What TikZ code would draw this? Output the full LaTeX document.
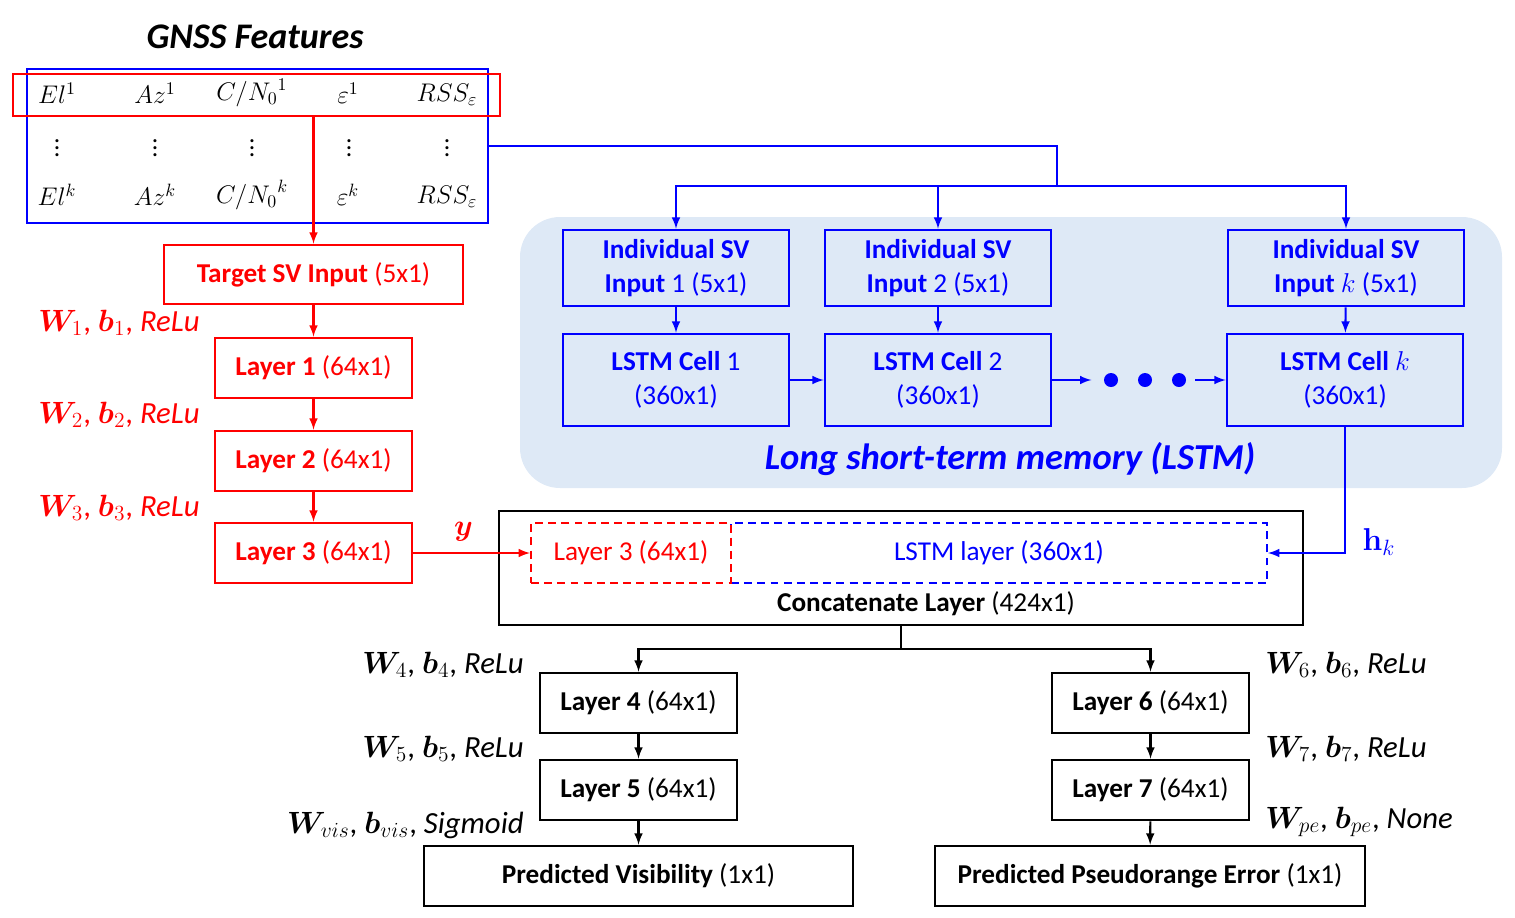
\RequirePackage{fix-cm}
\documentclass[tikz,border=0pt]{standalone}
\usepackage{amsmath,amssymb,bm}
\usepackage[no-math]{fontspec}
\setmainfont{Carlito}
\usepackage{xcolor}

\definecolor{lstmbg}{RGB}{222,233,246}

\tikzset{
  box/.style={draw,line width=1.5pt,inner sep=0pt,align=center,font=\fontsize{15.5}{19.5}\selectfont},
  redbox/.style={box,draw=red,text=red},
  bluebox/.style={box,draw=blue,text=blue},
  blkbox/.style={box,draw=black},
  dashbox/.style={box,dashed,line width=1.2pt,dash pattern=on 4.5pt off 3pt},
  redarr/.style={->,>=latex,line width=1.2pt,red},
  bluearr/.style={->,>=latex,line width=1.2pt,blue},
  blkarr/.style={->,>=latex,line width=1.2pt,black},
  feat/.style={inner sep=0pt,font=\fontsize{14.5}{17}\selectfont},
  wlbl/.style={inner sep=0pt,font=\fontsize{17.5}{20}\selectfont},
}

\begin{document}
\begin{tikzpicture}[x=0.02cm,y=-0.02cm]
\useasboundingbox (0,0) rectangle (1515,917);

% LSTM background
\fill[lstmbg,rounded corners=0.8cm] (520,217) rectangle (1502,488);

% GNSS features
\node[font=\fontsize{20.5}{24}\selectfont\bfseries\itshape](title) at (255,37){GNSS Features};
\node[draw=blue,line width=1.5pt,minimum width=9.22cm,minimum height=3.08cm](gnss) at (257.5,146){};
\node[draw=red,line width=1.5pt,minimum width=9.74cm,minimum height=0.84cm](row) at (256.5,95){};
\node[feat](el1) at (57,93){$El^{1}$};
\node[feat](az1) at (155,93){$Az^{1}$};
\node[feat](cn1) at (252,93){$C/{N_0}^{1}$};
\node[feat](ep1) at (348,93){$\varepsilon^{1}$};
\node[feat](rs1) at (447,95){$RSS_{\varepsilon}$};
\node[feat](vd1) at (57,143){$\vdots$};
\node[feat](vd2) at (155,143){$\vdots$};
\node[feat](vd3) at (252,143){$\vdots$};
\node[feat](vd4) at (349,143){$\vdots$};
\node[feat](vd5) at (447,143){$\vdots$};
\node[feat](elk) at (57,195){$El^{k}$};
\node[feat](azk) at (155,195){$Az^{k}$};
\node[feat](cnk) at (252,195){$C/{N_0}^{k}$};
\node[feat](epk) at (348,195){$\varepsilon^{k}$};
\node[feat](rsk) at (447,197){$RSS_{\varepsilon}$};

% target SV branch
\node[redbox,minimum width=5.98cm,minimum height=1.18cm](target) at (313.5,274.5){\textbf{Target SV Input} (5x1)};
\node[redbox,minimum width=3.94cm,minimum height=1.2cm](lay1) at (313.5,368){\textbf{Layer 1} (64x1)};
\node[redbox,minimum width=3.94cm,minimum height=1.2cm](lay2) at (313.5,461){\textbf{Layer 2} (64x1)};
\node[redbox,minimum width=3.94cm,minimum height=1.2cm](lay3) at (313.5,553){\textbf{Layer 3} (64x1)};
\node[wlbl,anchor=west,text=red](w1) at (38,323){$\bm{W}_{1}$, $\bm{b}_{1}$, \textit{ReLu}};
\node[wlbl,anchor=west,text=red](w2) at (38,415){$\bm{W}_{2}$, $\bm{b}_{2}$, \textit{ReLu}};
\node[wlbl,anchor=west,text=red](w3) at (38,508){$\bm{W}_{3}$, $\bm{b}_{3}$, \textit{ReLu}};

% LSTM branch
\node[bluebox,minimum width=4.52cm,minimum height=1.52cm](in1) at (676,268){\textbf{Individual SV}\\\textbf{Input} 1 (5x1)};
\node[bluebox,minimum width=4.52cm,minimum height=1.52cm](in2) at (938,268){\textbf{Individual SV}\\\textbf{Input} 2 (5x1)};
\node[bluebox,minimum width=4.72cm,minimum height=1.52cm](ink) at (1346,268){\textbf{Individual SV}\\\textbf{Input} $k$ (5x1)};
\node[bluebox,minimum width=4.52cm,minimum height=1.84cm](cell1) at (676,380){\textbf{LSTM Cell} 1\\(360x1)};
\node[bluebox,minimum width=4.52cm,minimum height=1.84cm](cell2) at (938,380){\textbf{LSTM Cell} 2\\(360x1)};
\node[bluebox,minimum width=4.72cm,minimum height=1.84cm](cellk) at (1345,380){\textbf{LSTM Cell} $k$\\(360x1)};
\node[circle,fill=blue,inner sep=0pt,minimum size=0.28cm](d1) at (1111,380){};
\node[circle,fill=blue,inner sep=0pt,minimum size=0.28cm](d2) at (1145,380){};
\node[circle,fill=blue,inner sep=0pt,minimum size=0.28cm](d3) at (1179,380){};
\node[text=blue,font=\fontsize{20.8}{24}\selectfont\bfseries\itshape](lstmlbl) at (1010,459){Long short-term memory (LSTM)};

% concatenate
\node[blkbox,minimum width=16.08cm,minimum height=2.28cm](concat) at (901,568){};
\node[font=\fontsize{15.5}{19}\selectfont](concatlbl) at (926,604){\textbf{Concatenate Layer} (424x1)};
\node[dashbox,draw=blue,text=blue,minimum width=10.72cm,minimum height=1.2cm](lstml) at (999,553){LSTM layer (360x1)};
\node[dashbox,draw=red,text=red,minimum width=4cm,minimum height=1.2cm](l3c) at (631,553){Layer 3 (64x1)};

% output heads
\node[blkbox,minimum width=3.94cm,minimum height=1.2cm](lay4) at (638.5,703){\textbf{Layer 4} (64x1)};
\node[blkbox,minimum width=3.94cm,minimum height=1.2cm](lay5) at (638.5,790){\textbf{Layer 5} (64x1)};
\node[blkbox,minimum width=8.58cm,minimum height=1.2cm](vis) at (638.5,876){\textbf{Predicted Visibility} (1x1)};
\node[blkbox,minimum width=3.94cm,minimum height=1.2cm](lay6) at (1150.5,703){\textbf{Layer 6} (64x1)};
\node[blkbox,minimum width=3.94cm,minimum height=1.2cm](lay7) at (1150.5,790){\textbf{Layer 7} (64x1)};
\node[blkbox,minimum width=8.6cm,minimum height=1.2cm](pe) at (1150,876){\textbf{Predicted Pseudorange Error} (1x1)};
\node[wlbl,anchor=east](w4) at (524,665){$\bm{W}_{4}$, $\bm{b}_{4}$, \textit{ReLu}};
\node[wlbl,anchor=east](w5) at (524,749){$\bm{W}_{5}$, $\bm{b}_{5}$, \textit{ReLu}};
\node[wlbl,anchor=east](wvis) at (524,825){$\bm{W}_{vis}$, $\bm{b}_{vis}$, \textit{Sigmoid}};
\node[wlbl,anchor=west](w6) at (1265,665){$\bm{W}_{6}$, $\bm{b}_{6}$, \textit{ReLu}};
\node[wlbl,anchor=west](w7) at (1265,749){$\bm{W}_{7}$, $\bm{b}_{7}$, \textit{ReLu}};
\node[wlbl,anchor=west](wpe) at (1265,822){$\bm{W}_{pe}$, $\bm{b}_{pe}$, \textit{None}};

% connectors
\coordinate(split1) at (1057,186);
\coordinate(split2) at (901,649);
\draw[redarr](target |- row.south)--(target);
\draw[redarr](target)--(lay1);
\draw[redarr](lay1)--(lay2);
\draw[redarr](lay2)--(lay3);
\draw[redarr](lay3)--(l3c) node[pos=0.43,above=3pt,font=\fontsize{17}{20}\selectfont]{$\bm{y}$};
\draw[line width=1.2pt,blue](gnss.east)-|(split1);
\draw[bluearr](split1)-|(in1);
\draw[bluearr](split1)-|(ink);
\draw[bluearr](in2 |- split1)--(in2);
\draw[bluearr](in1)--(cell1);
\draw[bluearr](in2)--(cell2);
\draw[bluearr](ink)--(cellk);
\draw[bluearr](cell1)--(cell2);
\draw[bluearr,shorten >=7pt](cell2)--(d1);
\draw[bluearr,shorten <=5pt](d3)--(cellk);
\draw[bluearr](cellk)|-(lstml) node[pos=0.5,xshift=0.68cm,yshift=0.22cm,text=blue,font=\fontsize{18}{21}\selectfont]{$\mathbf{h}_{k}$};
\draw[line width=1.2pt](concat)--(split2);
\draw[blkarr](split2)-|(lay4);
\draw[blkarr](split2)-|(lay6);
\draw[blkarr](lay4)--(lay5);
\draw[blkarr](lay5)--(vis);
\draw[blkarr](lay6)--(lay7);
\draw[blkarr](lay7)--(pe);
\end{tikzpicture}
\end{document}
